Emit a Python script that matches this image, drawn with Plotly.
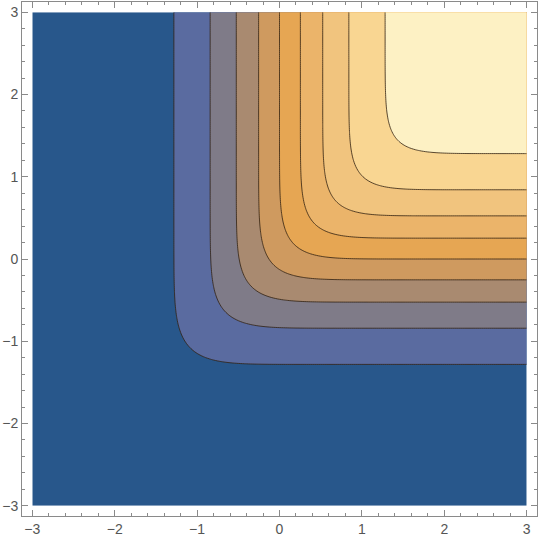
import numpy as np
import plotly.graph_objects as go

# ---- data ----
x_vals = np.linspace(-3, 3, 241)
y_vals = np.linspace(-3, 3, 241)
rho = 0.9  # correlation of the binormal CDF being contoured
contour_levels = [0.1, 0.2, 0.3, 0.4, 0.5, 0.6, 0.7, 0.8, 0.9]
band_colors = ["#28578b", "#5a6ba0", "#7f7b88", "#a98a70", "#cf9a5f",
               "#e6a653", "#ebb46a", "#f1c47e", "#f9d692", "#fdf1c4"]
tick_values = [-3, -2, -1, 0, 1, 2, 3]


def erf(v):
    s = np.sign(v)
    a = np.abs(v)
    t = 1.0 / (1.0 + 0.3275911 * a)
    poly = t * (0.254829592 + t * (-0.284496736 + t * (1.421413741 + t * (-1.453152027 + t * 1.061405429))))
    return s * (1.0 - poly * np.exp(-a * a))


def Phi(v):
    return 0.5 * (1.0 + erf(v / np.sqrt(2.0)))


# binormal CDF P(X<=x, Y<=y) by numerical integration
tg = np.linspace(-9, 3, 4001)
dt = tg[1] - tg[0]
phi_t = np.exp(-tg ** 2 / 2) / np.sqrt(2 * np.pi)
sd = np.sqrt(1 - rho ** 2)
Z = np.empty((len(y_vals), len(x_vals)))
for i, yv in enumerate(y_vals):
    g = phi_t * Phi((yv - rho * tg) / sd)
    cum = np.concatenate([[0.0], np.cumsum((g[1:] + g[:-1]) / 2 * dt)])
    Z[i, :] = np.interp(x_vals, tg, cum)

n = len(band_colors) - 1
colorscale = [[k / n, c] for k, c in enumerate(band_colors)]

fig = go.Figure(go.Contour(
    x=x_vals, y=y_vals, z=Z,
    autocontour=False,
    contours=dict(start=contour_levels[0], end=contour_levels[-1],
                  size=round(contour_levels[1] - contour_levels[0], 10),
                  coloring="fill"),
    colorscale=colorscale,
    showscale=False,
    line=dict(color="rgba(50,34,18,0.8)", width=1),
    hoverinfo="skip",
))

axis_common = dict(
    range=[-3.125, 3.125],
    tickvals=tick_values,
    ticks="inside",
    ticklen=6,
    tickwidth=1,
    tickcolor="#8a8a8a",
    showline=True,
    linecolor="#8a8a8a",
    linewidth=1,
    mirror="ticks",
    showgrid=False,
    zeroline=False,
    minor=dict(dtick=0.2, ticks="inside", ticklen=3, tickcolor="#8a8a8a", showgrid=False),
    tickfont=dict(family="Liberation Sans, Arial, sans-serif", size=14, color="#555555"),
)

fig.update_layout(
    width=540, height=540,
    margin=dict(l=22, r=3, t=2, b=24),
    paper_bgcolor="white",
    plot_bgcolor="white",
    xaxis=dict(axis_common),
    yaxis=dict(axis_common),
    showlegend=False,
)

fig.write_html("out.html", config={"displayModeBar": False},
               post_script="document.body.style.margin='0px';")
